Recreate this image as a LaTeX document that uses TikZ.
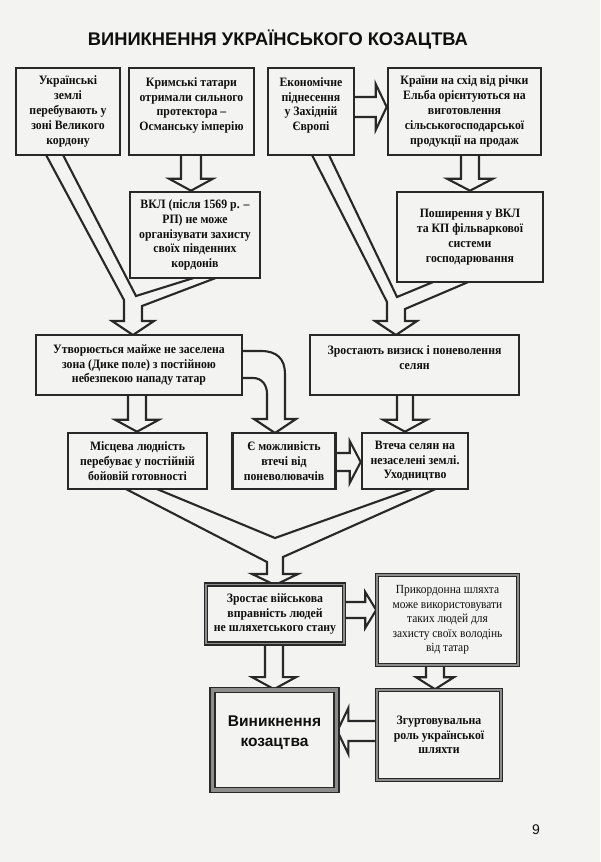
\documentclass[tikz,border=0pt]{standalone}
\usepackage{fontspec}
\setmainfont{Liberation Serif}
\newfontfamily\boxserif{Liberation Serif}[FakeStretch=0.92]
\newfontfamily\sansbf{Liberation Sans}
\usetikzlibrary{calc}
\definecolor{pagebg}{RGB}{243,243,241}
\definecolor{lineclr}{RGB}{40,40,40}
\definecolor{txt}{RGB}{15,15,15}
\definecolor{midgray}{RGB}{140,140,140}
\pgfdeclarelayer{bg}
\pgfsetlayers{bg,main}
\newcommand\boxfont{\boxserif\fontsize{12.8}{14.8}\selectfont\bfseries}
\newcommand\regfont{\boxserif\fontsize{12.4}{14.6}\selectfont\mdseries}
% vertical hollow arrow: #1 x centre, #2 from anchor, #3 to anchor, #4 half shaft, #5 half head
\newcommand\arrdown[5]{%
  \draw[harrow] let \p1=(#2), \p2=(#3) in
    (#1pt-#4pt,\y1+2pt) -- (#1pt-#4pt,\y2+12pt) -- (#1pt-#5pt,\y2+12pt) -- (#1pt,\y2)
    -- (#1pt+#5pt,\y2+12pt) -- (#1pt+#4pt,\y2+12pt) -- (#1pt+#4pt,\y1+2pt);}
% horizontal hollow arrow to the right: #1 y centre (px, downward)
\newcommand\arrright[5]{%
  \draw[harrow] let \p1=(#2), \p2=(#3) in
    (\x1-2pt,-#1pt+#4pt) -- (\x2-11pt,-#1pt+#4pt) -- (\x2-11pt,-#1pt+#5pt) -- (\x2,-#1pt)
    -- (\x2-11pt,-#1pt-#5pt) -- (\x2-11pt,-#1pt-#4pt) -- (\x1-2pt,-#1pt-#4pt);}
% horizontal hollow arrow to the left
\newcommand\arrleft[5]{%
  \draw[harrow] let \p1=(#2), \p2=(#3) in
    (\x1+2pt,-#1pt+#4pt) -- (\x2+11pt,-#1pt+#4pt) -- (\x2+11pt,-#1pt+#5pt) -- (\x2,-#1pt)
    -- (\x2+11pt,-#1pt-#5pt) -- (\x2+11pt,-#1pt-#4pt) -- (\x1+2pt,-#1pt-#4pt);}
\begin{document}
\begin{tikzpicture}[x=1pt,y=-1pt,
  box/.style={draw=lineclr, line width=2.6pt, fill=pagebg, align=center, inner sep=0pt,
              font=\boxfont, text=txt},
  dbox/.style={box, line width=1.6pt, double=midgray, double distance=1.4pt},
  tbox/.style={box, line width=1.7pt, double=midgray, double distance=3.4pt},
  harrow/.style={draw=lineclr, line width=2.1pt, fill=pagebg, line join=miter}]
\useasboundingbox (0,0) rectangle (600,862);

% title
\node[anchor=base, font=\sansbf\fontsize{18.3}{21}\selectfont\bfseries, text=txt] (title) at (278,45)
  {ВИНИКНЕННЯ УКРАЇНСЬКОГО КОЗАЦТВА};

% row 1
\node[box, minimum width=104pt, minimum height=87pt] (A) at (68,111.5)
  {Українські\\землі\\перебувають у\\зоні Великого\\кордону};
\node[box, minimum width=125pt, minimum height=87pt] (B) at (191.5,111.5)
  {Кримські татари\\отримали сильного\\протектора –\\Османську імперію\\\mbox{}};
\node[box, minimum width=86pt, minimum height=87pt] (C) at (311,111.5)
  {Економічне\\піднесення\\у Західній\\Європі\\\mbox{}};
\node[box, minimum width=153pt, minimum height=87pt] (D) at (464.5,111.5)
  {Країни на схід від річки\\Ельба орієнтуються на\\виготовлення\\сільськогосподарської\\продукції на продаж};

% row 2
\node[box, minimum width=130pt, minimum height=86pt] (E) at (195,235)
  {ВКЛ (після 1569 р. –\\РП) не може\\організувати захисту\\своїх південних\\кордонів};
\node[box, minimum width=146pt, minimum height=90pt] (F) at (470,237)
  {Поширення у ВКЛ\\та КП фільваркової\\системи\\господарювання};

% row 3
\node[box, minimum width=206pt, minimum height=60pt] (G) at (139,365)
  {Утворюється майже не заселена\\зона (Дике поле) з постійною\\небезпекою нападу татар};
\node[box, minimum width=209pt, minimum height=60pt] (H) at (414.5,365)
  {Зростають визиск і поневолення\\селян\\\mbox{}};

% row 4
\node[box, minimum width=139pt, minimum height=56pt] (I) at (137.5,461)
  {Місцева людність\\перебуває у постійній\\бойовій готовності};
\node[box, minimum width=103pt, minimum height=56pt] (J) at (284,461)
  {Є можливість\\втечі від\\поневолювачів};
\node[box, minimum width=106pt, minimum height=56pt] (K) at (415,461)
  {Втеча селян на\\незаселені землі.\\Уходництво};

% lower part
\node[dbox, minimum width=138pt, minimum height=59pt] (L) at (275,614)
  {Зростає військова\\вправність людей\\не шляхетського стану};
\node[dbox, minimum width=141pt, minimum height=90pt, font=\regfont] (M) at (447.5,620)
  {Прикордонна шляхта\\може використовувати\\таких людей для\\захисту своїх володінь\\від татар};
\node[tbox, minimum width=124pt, minimum height=100pt] (N) at (274.5,740) {};
\node[font=\sansbf\fontsize{15.5}{20}\selectfont\bfseries, text=txt, align=center] (Nt) at (274.5,733)
  {Виникнення\\козацтва};
\node[dbox, minimum width=124pt, minimum height=90pt] (O) at (439,735)
  {Згуртовувальна\\роль української\\шляхти};

% page number
\node[anchor=base, font=\sansbf\fontsize{14}{16}\selectfont, text=txt] (pnum) at (536,834) {9};

\begin{pgfonlayer}{bg}
\fill[pagebg] (0,0) rectangle (600,862);

% straight hollow arrows
\arrdown{191}{B.south}{E.north}{10}{22}
\arrdown{470}{D.south}{F.north}{9}{23}
\arrright{107}{C.east}{D.west}{10}{23}
\arrdown{137}{G.south}{I.north}{9}{22}
\arrdown{405}{H.south}{K.north}{8}{22}
\arrright{462}{J.east}{K.west}{9}{21}
\arrdown{274}{L.south}{N.north}{9}{22}
\arrright{610}{L.east}{M.west}{8}{18}
\arrdown{435}{M.south}{O.north}{9}{19}
\arrleft{731}{O.west}{N.east}{10}{23}

% left merge: A and E -> G
\draw[harrow] (45,153) -- (124,300) -- (124,321) -- (112,321) -- (133,335) -- (154,321)
  -- (142,321) -- (142,306) -- (221,276) -- (200,276) -- (136,296) -- (62,153) -- cycle;

% right merge: C and F -> H
\draw[harrow] (311,153) -- (387,302) -- (387,321) -- (375,321) -- (396,335) -- (417,321)
  -- (405,321) -- (405,309) -- (473,280) -- (438,280) -- (397,297) -- (328,153) -- cycle;

% bottom merge: I and K -> L
\draw[harrow] (122,487) -- (267,562) -- (267,574) -- (252,574) -- (275,585) -- (298,574)
  -- (283,574) -- (283,557) -- (440,487) -- (418,487) -- (275,538) -- (152,487) -- cycle;

% curved arrow: G -> J
\draw[harrow] (238,351) -- (261,351) .. controls (277,351) and (285,359) .. (285,374)
  -- (285,419) -- (296,419) -- (275,433) -- (254,419) -- (267,419) -- (267,394)
  .. controls (267,385) and (262,378) .. (253,378) -- (238,378) -- cycle;
\end{pgfonlayer}
\end{tikzpicture}
\end{document}
